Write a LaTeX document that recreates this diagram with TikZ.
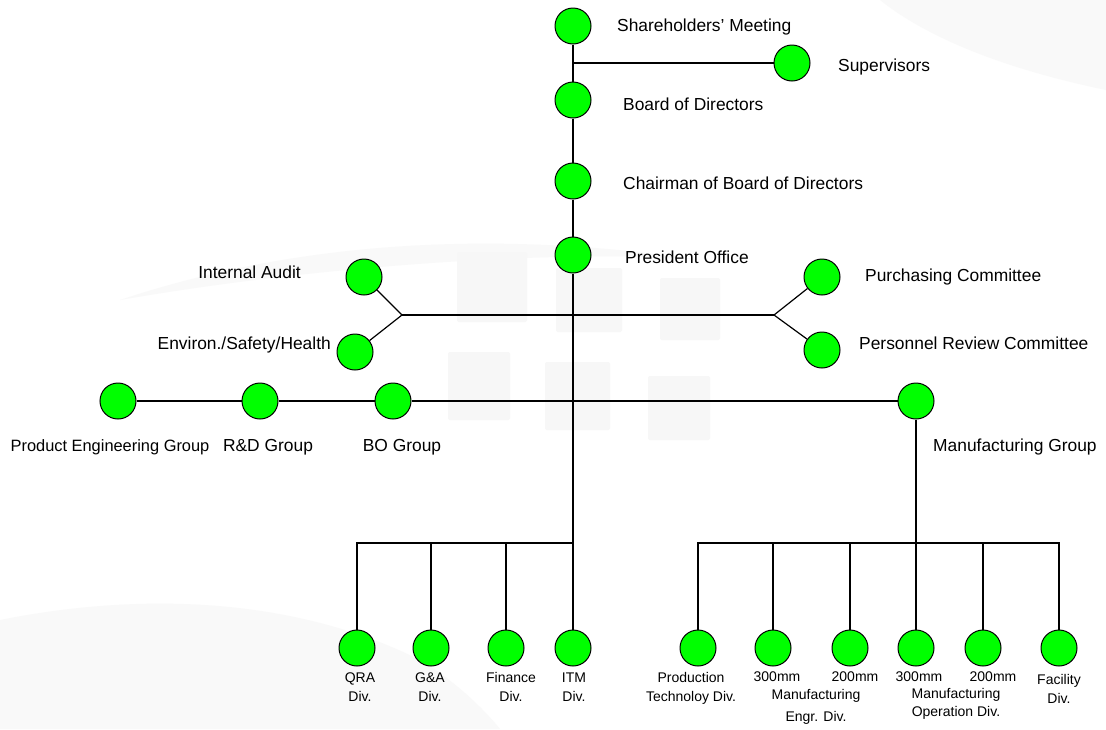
\documentclass[tikz,border=0pt]{standalone}
\usepackage{fontspec}
\setmainfont{Liberation Sans}
\definecolor{nodegreen}{RGB}{0,255,0}
\definecolor{wm}{RGB}{247,247,247}
\definecolor{wmlight}{RGB}{249,249,249}
\begin{document}
\begin{tikzpicture}[x=1pt,y=-1pt,
  orgnode/.style={circle,draw=black,fill=nodegreen,minimum size=36pt,inner sep=0pt,line width=1pt},
  link/.style={draw=black,line width=1.2pt},
  biglabel/.style={inner sep=0pt,font=\fontsize{17.4}{20}\selectfont},
  smalllabel/.style={inner sep=0pt,align=center,font=\fontsize{14}{19}\selectfont},
  wmbox/.style={fill=wm,draw=none,rounded corners=2pt}]
\useasboundingbox (0,0) rectangle (1106,729);
\fill[white] (0,0) rectangle (1106,729);
% faint watermark
\fill[wmlight] (0,620) .. controls (150,590) and (300,600) .. (420,660) .. controls (470,690) and (500,729) .. (500,729) -- (0,729) -- cycle;
\fill[wmlight] (880,0) -- (1106,0) -- (1106,90) .. controls (1010,70) and (930,40) .. (880,0) -- cycle;
\fill[wmlight] (120,300) .. controls (300,240) and (500,230) .. (700,260) .. controls (600,250) and (350,260) .. (120,300) -- cycle;
\fill[wmbox] (457,252) rectangle (527,322);
\fill[wmbox] (556,268) rectangle (622,332);
\fill[wmbox] (660,278) rectangle (720,340);
\fill[wmbox] (448,352) rectangle (510,420);
\fill[wmbox] (545,362) rectangle (610,430);
\fill[wmbox] (648,376) rectangle (710,440);
% nodes
\node[orgnode] (sh)   at (573,26)  {};
\node[orgnode] (sup)  at (792,63)  {};
\node[orgnode] (bod)  at (573,100) {};
\node[orgnode] (ch)   at (573,181) {};
\node[orgnode] (pres) at (573,255) {};
\node[orgnode] (ia)   at (364,277) {};
\node[orgnode] (env)  at (355,352) {};
\node[orgnode] (pc)   at (822,277) {};
\node[orgnode] (pr)   at (822,350) {};
\node[orgnode] (peg)  at (118,401) {};
\node[orgnode] (rd)   at (260,401) {};
\node[orgnode] (bo)   at (393,401) {};
\node[orgnode] (mg)   at (916,401) {};
\node[orgnode] (qra)  at (357,648) {};
\node[orgnode] (ga)   at (431,648) {};
\node[orgnode] (fin)  at (506,648) {};
\node[orgnode] (itm)  at (573,648) {};
\node[orgnode] (pt)   at (698,648) {};
\node[orgnode] (mea)  at (773,648) {};
\node[orgnode] (meb)  at (850,648) {};
\node[orgnode] (moa)  at (916,648) {};
\node[orgnode] (mob)  at (983,648) {};
\node[orgnode] (fac)  at (1059,648) {};
% junctions
\coordinate (jsup) at (573,63);
\coordinate (bl) at (402,315);
\coordinate (br) at (774,315);
\coordinate (jl) at (573,543);
\coordinate (jr) at (916,543);
% connectors
\draw[link] (sh) -- (bod);
\draw[link] (bod) -- (ch);
\draw[link] (ch) -- (pres);
\draw[link] (pres) -- (itm);
\draw[link] (jsup) -- (sup);
\draw[link] (bl) -- (br);
\draw[link] (bl) -- (ia);
\draw[link] (bl) -- (env);
\draw[link] (br) -- (pc);
\draw[link] (br) -- (pr);
\draw[link] (peg) -- (rd);
\draw[link] (rd) -- (bo);
\draw[link] (bo) -- (mg);
\draw[link] (mg) -- (moa);
\draw[link] (jl) -| (qra);
\draw[link] (jl) -| (ga);
\draw[link] (jl) -| (fin);
\draw[link] (jr) -| (pt);
\draw[link] (jr) -| (mea);
\draw[link] (jr) -| (meb);
\draw[link] (jr) -| (mob);
\draw[link] (jr) -| (fac);
% labels
\node[biglabel,anchor=west] (lsh)   at (617,27)  {Shareholders' Meeting};
\node[biglabel,anchor=west] (lsup)  at (838,67)  {Supervisors};
\node[biglabel,anchor=west] (lbod)  at (623,104) {Board of Directors};
\node[biglabel,anchor=west] (lch)   at (623,183) {Chairman of Board of Directors};
\node[biglabel,anchor=west] (lpres) at (625,257) {President Office};
\node[biglabel,anchor=east] (lia)   at (301,272) {Internal Audit};
\node[biglabel,anchor=east] (lenv)  at (331,345) {Environ./Safety/Health};
\node[biglabel,anchor=west] (lpc)   at (865,277) {Purchasing Committee};
\node[biglabel,anchor=west] (lpr)   at (859,343) {Personnel Review Committee};
\node[biglabel,font=\fontsize{16.4}{20}\selectfont] (lpeg) at (110,447) {Product Engineering Group};
\node[biglabel] (lrd)  at (268,447) {R\&D Group};
\node[biglabel] (lbo)  at (402,447) {BO Group};
\node[biglabel,anchor=west] (lmg) at (933,447) {Manufacturing Group};
\node[smalllabel] (lqra) at (360,687) {QRA\\Div.};
\node[smalllabel] (lga)  at (430,687) {G\&A\\Div.};
\node[smalllabel] (lfin) at (511,687) {Finance\\Div.};
\node[smalllabel] (litm) at (574,687) {ITM\\Div.};
\node[smalllabel] (lpt)  at (691,688) {Production\\Technoloy Div.};
\node[smalllabel] (lmea) at (777,677) {300mm};
\node[smalllabel] (lmeb) at (855,677) {200mm};
\node[smalllabel,font=\fontsize{14}{22}\selectfont] (lme) at (816,707) {Manufacturing\\Engr. Div.};
\node[smalllabel] (lmoa) at (919,677) {300mm};
\node[smalllabel] (lmob) at (993,677) {200mm};
\node[smalllabel,font=\fontsize{14}{17.5}\selectfont] (lmo) at (956,704) {Manufacturing\\Operation Div.};
\node[smalllabel] (lfac) at (1059,689) {Facility\\Div.};
\end{tikzpicture}
\end{document}
